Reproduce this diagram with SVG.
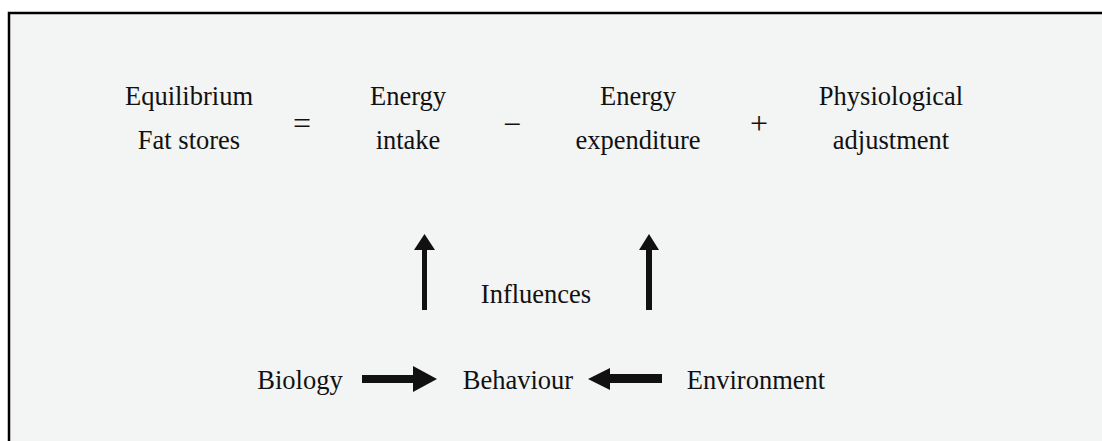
<svg xmlns="http://www.w3.org/2000/svg" width="1102" height="441" viewBox="0 0 1102 441">
  <style>
    .t { font-family: "Liberation Serif", "Times New Roman", serif; font-size: 26.5px; fill: #111; text-anchor: middle; }
    .op { font-size: 32px; }
    .arrow { fill: #111; }
  </style>
  <rect x="0" y="0" width="1102" height="441" fill="#ffffff"/>
  <!-- frame, open on the right and bottom -->
  <rect x="9" y="13" width="1110" height="440" fill="#f3f4f4" stroke="#000" stroke-width="2.5"/>

  <!-- balance equation -->
  <g id="equilibrium">
    <text class="t" x="189" y="105">Equilibrium</text>
    <text class="t" x="189" y="149">Fat stores</text>
  </g>
  <g id="op-equals"><text class="t op" x="302" y="134">=</text></g>
  <g id="energy-intake">
    <text class="t" x="408" y="105">Energy</text>
    <text class="t" x="408" y="149">intake</text>
  </g>
  <g id="op-minus"><text class="t op" x="512" y="135">−</text></g>
  <g id="energy-expenditure">
    <text class="t" x="638" y="105">Energy</text>
    <text class="t" x="638" y="149">expenditure</text>
  </g>
  <g id="op-plus"><text class="t op" x="759" y="134">+</text></g>
  <g id="physiological-adjustment">
    <text class="t" x="891" y="105">Physiological</text>
    <text class="t" x="891" y="149">adjustment</text>
  </g>

  <!-- influences -->
  <g id="influences"><text class="t" x="536" y="303">Influences</text></g>
  <g id="biology"><text class="t" x="300" y="389">Biology</text></g>
  <g id="behaviour"><text class="t" x="518" y="389">Behaviour</text></g>
  <g id="environment"><text class="t" x="756" y="389">Environment</text></g>

  <!-- block arrows -->
  <g id="connectors">
    <polygon class="arrow" points="422,310 427,310 427,250 435,250 424.5,234 414,250 422,250"/>
    <polygon class="arrow" points="646,310 652,310 652,250 659,250 649,234 639,250 646,250"/>
    <polygon class="arrow" points="362,375 413,375 413,366 437,379 413,392 413,383 362,383"/>
    <polygon class="arrow" points="662,374 610,374 610,368 588,379 610,390 610,383 662,383"/>
  </g>
</svg>
